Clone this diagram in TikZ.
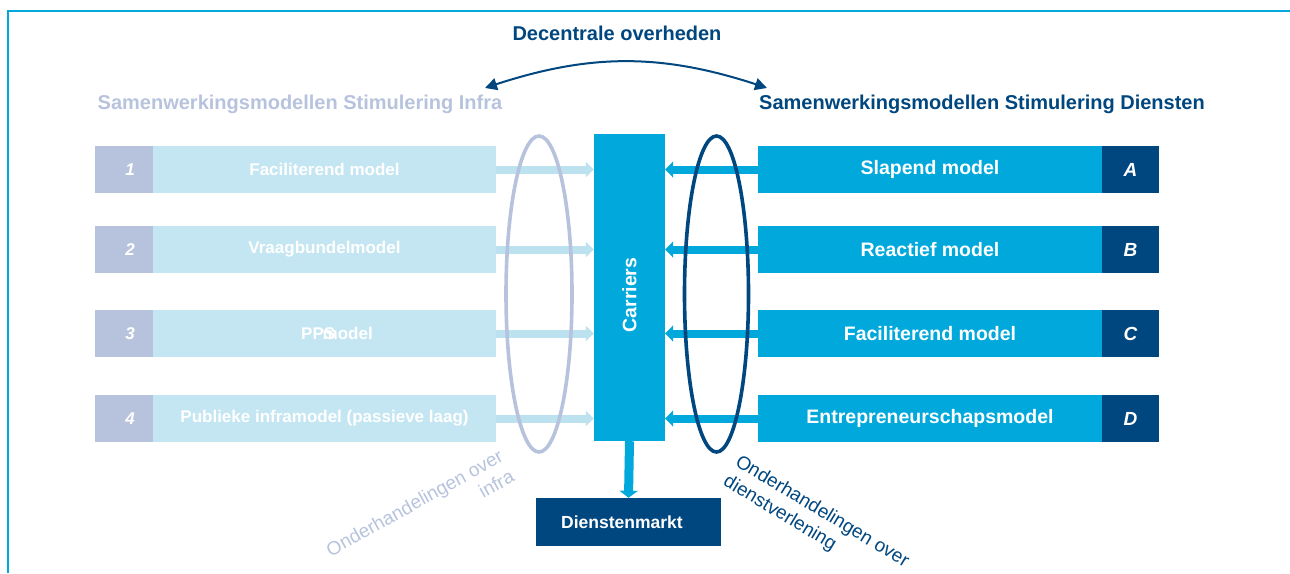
\documentclass[tikz,border=0pt]{standalone}
\usepackage{fontspec}
\setmainfont{Liberation Sans}
\usetikzlibrary{arrows.meta,bending}
\definecolor{lav}{HTML}{B7C3DD}
\definecolor{lblue}{HTML}{C4E6F2}
\definecolor{larrowc}{HTML}{BCE2F0}
\definecolor{cyanb}{HTML}{00A8DB}
\definecolor{navy}{HTML}{00467F}
\begin{document}
\begin{tikzpicture}[x=1pt,y=-1pt,
  numbox/.style={fill=lav, minimum width=58pt, minimum height=47pt, inner sep=0pt, text=white, font=\bfseries\itshape\fontsize{17}{20}\selectfont},
  lbox/.style={fill=lblue, minimum width=343pt, minimum height=47pt, inner sep=0pt, text=white, font=\bfseries\fontsize{17}{20}\selectfont},
  rbox/.style={fill=cyanb, minimum width=344pt, minimum height=47pt, inner sep=0pt, text=white, font=\bfseries\fontsize{19.5}{22}\selectfont},
  letbox/.style={fill=navy, minimum width=57pt, minimum height=47pt, inner sep=0pt, text=white, font=\bfseries\itshape\fontsize{19}{22}\selectfont},
  larr/.style={draw=larrowc, line width=8pt, -{Triangle[length=8pt,width=15pt]}},
  rarr/.style={draw=cyanb, line width=8pt, -{Triangle[length=8pt,width=16pt]}},
  header/.style={inner sep=0pt, font=\bfseries\fontsize{20}{22}\selectfont},
  negtext/.style={inner sep=0pt, font=\fontsize{19}{23}\selectfont}
]
\useasboundingbox (0,0) rectangle (1290,573);
% frame
\draw[cyanb, line width=2.4pt] (8,573) -- (8,11) -- (1290,11);

% headers
\node[header, text=navy] (dec) at (617,33) {Decentrale overheden};
\node[header, text=lav] (hinfra) at (300,104) {Samenwerkingsmodellen Stimulering Infra};
\node[header, text=navy] (hdien) at (982,104) {Samenwerkingsmodellen Stimulering Diensten};

% arc
\coordinate (aL) at (485,88);
\coordinate (aR) at (767,88);
\draw[navy, line width=2pt, {Triangle[length=12pt,width=12pt,bend]}-{Triangle[length=12pt,width=12pt,bend]}] (aL) to[bend left=19] (aR);

% carriers
\node[fill=cyanb, minimum width=71pt, minimum height=307pt, inner sep=0pt] (car) at (629.5,287.5) {};
\node[rotate=90, text=white, font=\bfseries\fontsize{19.5}{22}\selectfont, inner sep=0pt] (cart) at (629.5,295) {Carriers};

% left rows
\node[numbox] (n1) at (124,169.5) {\hspace*{12pt}1};
\node[lbox] (l1) at (324.5,169.5) {Faciliterend model};
\node[numbox] (n2) at (124,249.5) {\hspace*{12pt}2};
\node[lbox] (l2) at (324.5,249.5) {Vraagbundelmodel};
\node[numbox] (n3) at (124,333.5) {\hspace*{12pt}3};
\node[lbox] (l3) at (324.5,333.5) {};
\node[inner sep=0pt, text=white, font=\bfseries\fontsize{17}{20}\selectfont, anchor=west] (pps) at (301,333.5) {PPS};
\node[inner sep=0pt, text=white, font=\bfseries\fontsize{17}{20}\selectfont, anchor=east] (ppsm) at (373,333.5) {model};
\node[numbox] (n4) at (124,418.5) {\hspace*{12pt}4};
\node[lbox] (l4) at (324.5,418.5) {Publieke inframodel (passieve laag)};

% right rows
\node[rbox] (r1) at (930,169.5) {Slapend model};
\node[letbox] (a1) at (1130.5,169.5) {A};
\node[rbox] (r2) at (930,249.5) {Reactief model};
\node[letbox] (a2) at (1130.5,249.5) {B};
\node[rbox] (r3) at (930,333.5) {Faciliterend model};
\node[letbox] (a3) at (1130.5,333.5) {C};
\node[rbox] (r4) at (930,418.5) {Entrepreneurschapsmodel};
\node[letbox] (a4) at (1130.5,418.5) {D};

% arrows
\foreach \i in {1,2,3,4}{
  \draw[larr] (l\i.east) -- (l\i.east -| car.west);
  \draw[rarr] (r\i.west) -- (r\i.west -| car.east);
}

% ellipses
\draw[lav, line width=3.6pt] (539,294) ellipse [x radius=33, y radius=158];
\draw[navy, line width=3.6pt] (716.5,294) ellipse [x radius=32, y radius=158];

% dienstenmarkt
\node[fill=navy, minimum width=185pt, minimum height=48pt, inner sep=0pt] (dm) at (628.5,522) {};
\node[inner sep=0pt, text=white, font=\bfseries\fontsize{17.5}{20}\selectfont] (dmt) at (622,522) {Dienstenmarkt};
\draw[cyanb, line width=9pt, -{Triangle[length=7pt,width=18pt]}] (car.south) -- (dm.north);

% negotiation labels
\node[negtext, rotate=29, align=right, text=lav] (negl) at (420,513) {Onderhandelingen over\\infra};
\node[negtext, rotate=-31, align=left, text=navy] (negr) at (816,522) {Onderhandelingen over\\dienstverlening};
\end{tikzpicture}
\end{document}
